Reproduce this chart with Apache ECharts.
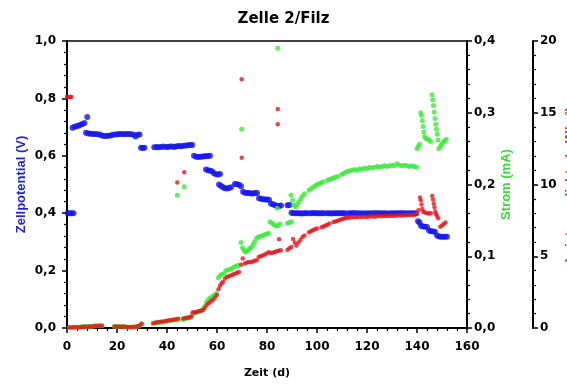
<!DOCTYPE html>
<html>
<head>
<meta charset="utf-8">
<script src="https://cdn.jsdelivr.net/npm/echarts@6/dist/echarts.min.js"></script>
<style>
html,body{margin:0;padding:0;background:#fff}
#chart{width:567px;height:389px}
</style>
</head>
<body>
<div id="chart"></div>
<script>
const chartTitle = 'Zelle 2/Filz';
const timeName = 'Zeit (d)';
const potentialName = 'Zellpotential (V)';
const currentName = 'Strom (mA)';
const powerName = 'Leistungsdichte (mW/m²)';

// Zellpotential [Tag, V]
const potential = [
  [0.3,0.400],[1,0.400],[1.8,0.400],[2.6,0.400],
  [2.2,0.698],[3,0.701],[3.8,0.703],[4.6,0.705],[5.4,0.708],[6.2,0.711],[7,0.714],
  [8.1,0.735],
  [7.6,0.680],[8.5,0.678],[9.4,0.677],[10.3,0.676],[11.2,0.676],[12.1,0.675],[13,0.674],[13.9,0.671],
  [14.8,0.669],[15.7,0.669],[16.6,0.670],[17.5,0.671],[18.4,0.673],[19.3,0.674],[20.2,0.675],[21.1,0.676],
  [22,0.676],[22.9,0.675],[23.8,0.676],[24.7,0.676],[25.6,0.675],[26.5,0.674],[27.4,0.667],[28.2,0.673],[29,0.674],
  [29.6,0.628],[30.3,0.627],[31,0.628],
  [34.9,0.630],[35.8,0.631],[36.7,0.630],[37.6,0.631],[38.5,0.632],[39.4,0.631],[40.3,0.631],[41.2,0.632],
  [42.1,0.632],[43,0.631],[43.9,0.633],[44.8,0.634],[45.7,0.633],[46.6,0.635],[47.5,0.636],[48.4,0.637],[49.3,0.638],[50.1,0.638],
  [50.8,0.600],[51.6,0.597],[52.4,0.596],[53.2,0.597],[54,0.597],[54.8,0.598],[55.6,0.598],[56.4,0.599],[57.2,0.600],
  [55.6,0.552],[56.4,0.550],[57.2,0.548],[58,0.546],[58.8,0.539],[59.6,0.536],[60.4,0.535],[61.2,0.537],
  [60.8,0.500],[61.6,0.495],[62.4,0.490],[63.2,0.487],[64,0.486],[64.8,0.488],[65.6,0.490],
  [67.2,0.502],[68,0.501],[68.8,0.499],[69.6,0.494],
  [70.4,0.475],[71.2,0.471],[72,0.470],[72.8,0.470],[73.6,0.469],[74.4,0.469],[75.2,0.470],[76,0.470],
  [76.8,0.452],[77.6,0.450],[78.4,0.449],[79.2,0.448],[80,0.448],[80.8,0.447],
  [81.6,0.433],[82.4,0.431],[83.2,0.428],[84,0.426],[84.8,0.425],[85.6,0.427],
  [88.2,0.428],[89,0.429],
  [89.8,0.402],[90.6,0.400],[91.4,0.400],[92.2,0.400],[93,0.400],[93.8,0.399],[94.6,0.400],[95.4,0.400],[96,0.400],
  [97.2,0.400],[98,0.400],[98.8,0.401],[99.6,0.400],[100.4,0.400],[101.2,0.400],[102,0.400],[102.8,0.400],
  [104,0.400],[104.8,0.400],[105.6,0.399],[106.4,0.400],[107.2,0.400],[108,0.400],[108.8,0.400],[109.6,0.400],[110.4,0.400],[111.2,0.400],
  [112.6,0.400],[113.5,0.400],[114.5,0.401],[115.5,0.400],[116.5,0.400],[117.5,0.400],[118.5,0.399],[119.5,0.400],
  [120.5,0.400],[121.5,0.400],[122.5,0.400],[123.5,0.401],[124.5,0.400],[125.5,0.400],[126.5,0.400],[127.5,0.400],
  [128.5,0.399],[129.5,0.400],[130.5,0.400],[131.5,0.400],[132.5,0.400],[133.5,0.401],[134.5,0.400],[135.5,0.400],
  [136.5,0.400],[137.5,0.400],[138.5,0.400],[139.5,0.400],
  [140.4,0.372],[141,0.368],[141.6,0.356],[142.4,0.354],[143.2,0.353],[144,0.352],
  [144.8,0.340],[145.6,0.337],[146.4,0.336],[147.2,0.335],
  [148,0.322],[148.8,0.319],[149.6,0.318],[150.4,0.318],[151.2,0.318],[152,0.318]
];

// Strom [Tag, mA]
const current = [
  [1,0.001],[2,0.001],[3,0.001],[4,0.001],[5,0.001],[6,0.002],[7,0.002],[8,0.002],[9,0.002],[10,0.002],
  [11,0.003],[12,0.003],[13,0.003],[14,0.003],
  [19,0.002],[20,0.002],[21,0.002],[22,0.002],[23,0.002],[24,0.001],[25,0.001],[26,0.001],[27,0.001],[28,0.002],[29,0.003],[30,0.006],
  [34.5,0.006],[35.5,0.007],[36.5,0.007],[37.5,0.008],[38.5,0.008],[39.5,0.009],[40.5,0.010],[41.5,0.010],[42.5,0.011],[43.5,0.011],[44.5,0.012],
  [46.5,0.012],[47.3,0.013],[48.1,0.014],[48.9,0.014],[49.7,0.015],
  [50.3,0.020],[51.1,0.021],[51.9,0.022],[52.7,0.023],[53.5,0.024],[54.3,0.025],
  [55,0.030],[55.8,0.036],[56.6,0.040],[57.4,0.042],[58.2,0.044],[59,0.046],[59.8,0.048],
  [60.5,0.070],[61.2,0.073],[62,0.075],[62.8,0.076],[63.6,0.080],[64.4,0.081],[65.2,0.082],[66,0.083],[66.8,0.085],[67.6,0.086],[68.4,0.087],
  [69.6,0.119],[70.2,0.112],[70.8,0.108],[71.4,0.106],[72,0.107],[72.6,0.109],[73.2,0.111],[73.8,0.113],[74.4,0.116],
  [75,0.120],[75.8,0.125],[76.6,0.127],[77.4,0.128],[78.2,0.129],[79,0.130],[79.8,0.131],[80.6,0.132],
  [81.2,0.148],[82,0.146],[82.8,0.144],[83.6,0.142],[84.4,0.143],[85.2,0.145],
  [84.1,0.167],
  [88.2,0.146],[89,0.147],[89.8,0.148],
  [89.6,0.185],[90.2,0.178],[90.8,0.171],[91.4,0.169],[92.1,0.172],[92.8,0.176],[93.5,0.180],[94.2,0.184],[95,0.187],
  [96.8,0.192],[97.6,0.194],[98.4,0.196],[99.2,0.198],[100,0.200],[100.8,0.201],[101.6,0.202],[102.4,0.204],
  [104.2,0.206],[105,0.207],[105.8,0.208],[106.6,0.209],[107.4,0.210],[108.2,0.211],
  [109.8,0.214],[110.6,0.215],[111.4,0.217],[112.2,0.218],
  [113,0.219],[114,0.220],[115,0.221],[116,0.220],[117,0.222],[118,0.221],[119,0.223],[120,0.222],[121,0.224],[122,0.223],
  [123,0.224],[124,0.225],[125,0.224],[126,0.225],[127,0.226],[128,0.225],[129,0.226],[130,0.227],[131,0.226],[132,0.229],
  [133,0.227],[134,0.226],[135,0.227],[136,0.226],[137,0.225],[138,0.226],[139,0.225],[139.8,0.224],
  [140,0.250],[140.5,0.253],[141,0.256],[141.5,0.300],[141.8,0.296],[142.1,0.289],[142.4,0.281],[142.7,0.273],[143,0.267],
  [143.6,0.264],[144.2,0.263],[144.8,0.262],[145.4,0.260],
  [146,0.325],[146.3,0.318],[146.6,0.310],[146.9,0.301],[147.2,0.292],[147.5,0.284],[147.8,0.277],[148.1,0.270],[148.4,0.262],[148.7,0.250],
  [149.3,0.253],[149.9,0.256],[150.5,0.259],[151.1,0.261],[151.7,0.263],
  [44.1,0.185],[46.9,0.197],[69.9,0.277],[84.3,0.390]
];

// Leistungsdichte [Tag, mW/m²]
const powerDensity = [
  [0,16.1],[0.6,16.1],[1.2,16.1],[1.8,16.1],
  [1,0.03],[2,0.04],[3,0.05],[4,0.05],[5,0.06],[6,0.07],[7,0.08],[8,0.09],[9,0.10],[10,0.11],[11,0.12],[12,0.14],[13,0.15],[14,0.16],
  [19,0.10],[20,0.10],[21,0.09],[22,0.09],[23,0.08],[24,0.07],[25,0.07],[26,0.07],[27,0.08],[28,0.10],[29,0.15],[29.8,0.30],
  [34.5,0.35],[35.5,0.38],[36.5,0.41],[37.5,0.44],[38.5,0.46],[39.5,0.49],[40.5,0.52],[41.5,0.55],[42.5,0.58],[43.5,0.61],[44.5,0.64],
  [46.5,0.66],[47.3,0.69],[48.1,0.72],[48.9,0.75],[49.7,0.80],
  [50.3,1.10],[51.1,1.08],[51.9,1.12],[52.7,1.16],[53.5,1.20],[54.3,1.26],[55.1,1.40],[55.9,1.60],[56.7,1.75],[57.5,1.85],
  [58.3,1.95],[59.1,2.10],[59.9,2.30],[60.6,2.70],[61.2,2.95],[61.8,3.10],[62.4,3.20],[63.2,3.45],[64,3.55],[64.8,3.60],
  [65.6,3.65],[66.4,3.72],[67.2,3.78],[68,3.85],[68.8,3.90],
  [69.6,4.40],[70.3,4.84],[71.1,4.50],[71.9,4.55],[72.7,4.60],[73.5,4.58],[74.3,4.63],[75.1,4.68],[75.9,4.72],
  [76.7,4.95],[77.5,5.00],[78.3,5.05],[79.1,5.12],[79.9,5.20],[80.7,5.28],[81.5,5.22],[82.3,5.25],[83.1,5.30],[83.9,5.35],[84.7,5.38],[85.5,5.42],
  [88.2,5.45],[89,5.55],[89.8,5.65],
  [90.4,6.20],[91.1,5.95],[91.8,5.75],[92.6,5.95],[93.4,6.15],[94.2,6.35],[95,6.45],
  [96.8,6.68],[97.6,6.75],[98.4,6.82],[99.2,6.88],[100,6.93],
  [101.8,7.02],[102.6,7.08],[103.4,7.15],[104.2,7.20],[105,7.28],
  [106.6,7.38],[107.4,7.42],[108.2,7.48],[109,7.52],[109.8,7.58],[110.6,7.62],[111.4,7.66],[112.2,7.68],
  [113,7.70],[114,7.71],[115,7.72],[116,7.74],[117,7.73],[118,7.75],[119,7.76],[120,7.74],[121,7.77],[122,7.78],
  [123,7.76],[124,7.79],[125,7.80],[126,7.78],[127,7.81],[128,7.80],[129,7.82],[130,7.83],[131,7.81],[132,7.84],
  [133,7.85],[134,7.83],[135,7.86],[136,7.85],[137,7.87],[138,7.88],[139,7.90],[140,7.95],
  [140.6,8.20],[141.2,9.10],[141.5,8.90],[141.8,8.60],[142.1,8.30],[142.5,8.10],[143.2,8.05],[144,8.00],[144.8,7.98],[145.5,8.00],
  [146.1,9.20],[146.4,8.95],[146.7,8.65],[147,8.40],[147.3,8.10],[147.6,7.95],[148,7.80],[148.5,7.65],
  [149.3,7.05],[150,7.15],[150.7,7.25],[151.4,7.35],
  [44.1,10.14],[46.9,10.86],[69.9,17.33],[69.9,11.86],[84.3,15.26],[84.3,14.20],[84.8,6.19]
];

const colors = { potential: '#1616e8', current: '#3ee83e', power: '#e6161e' };

const labelFont = { color: '#000', fontFamily: 'DejaVu Sans', fontWeight: 'bold', fontSize: 12 };
const nameFont = { fontFamily: 'Liberation Sans', fontWeight: 'bold', fontSize: 13 };

function decimalComma(digits) {
  return v => v.toFixed(digits).replace('.', ',');
}

function axisStyle(extra) {
  return Object.assign({
    type: 'value',
    nameMoveOverlap: false,
    axisLine: { show: true, onZero: false, lineStyle: { color: '#000', width: 2 } },
    axisTick: { show: true, inside: false, length: 5, lineStyle: { color: '#000', width: 1.5 } },
    minorTick: { show: true, splitNumber: 5, length: 3, lineStyle: { color: '#000', width: 1.2 } },
    splitLine: { show: false },
    minorSplitLine: { show: false }
  }, extra);
}

const chart = echarts.init(document.getElementById('chart'), null, { renderer: 'canvas' });

chart.setOption({
  animation: false,
  backgroundColor: '#fff',
  title: {
    text: chartTitle,
    left: 'center',
    top: 7,
    textStyle: { color: '#000', fontFamily: 'DejaVu Sans', fontWeight: 'bold', fontSize: 15 }
  },
  grid: {
    left: 67, right: 100, top: 41, bottom: 61,
    show: true, borderColor: '#000', borderWidth: 1.5, backgroundColor: 'transparent',
    containLabel: false, outerBoundsMode: 'none'
  },
  xAxis: axisStyle({
    min: 0, max: 160, interval: 20,
    name: timeName, nameLocation: 'middle', nameGap: 40,
    nameTextStyle: Object.assign({ color: '#000' }, nameFont, { fontFamily: 'DejaVu Sans', fontSize: 11 }),
    axisLabel: Object.assign({ margin: 13 }, labelFont)
  }),
  yAxis: [
    axisStyle({
      position: 'left',
      min: 0, max: 1, interval: 0.2,
      name: potentialName, nameLocation: 'middle', nameGap: 39,
      nameTextStyle: Object.assign({ color: '#2222d8' }, nameFont),
      axisLabel: Object.assign({ margin: 11, formatter: decimalComma(1) }, labelFont)
    }),
    axisStyle({
      position: 'right',
      min: 0, max: 0.4, interval: 0.1,
      name: currentName, nameLocation: 'middle', nameGap: 33,
      nameTextStyle: Object.assign({ color: '#3ad83a' }, nameFont),
      axisLabel: Object.assign({ margin: 7, formatter: decimalComma(1) }, labelFont)
    }),
    axisStyle({
      position: 'right', offset: 66,
      min: 0, max: 20, interval: 5,
      name: powerName, nameLocation: 'middle', nameGap: 31,
      nameTextStyle: Object.assign({ color: '#e03030' }, nameFont),
      axisLabel: Object.assign({ margin: 7, formatter: v => String(v) }, labelFont)
    })
  ],
  series: [
    {
      name: potentialName, type: 'scatter', yAxisIndex: 0, data: potential,
      symbol: 'circle', symbolSize: 6,
      itemStyle: { color: colors.potential }, z: 2
    },
    {
      name: currentName, type: 'scatter', yAxisIndex: 1, data: current,
      symbol: 'circle', symbolSize: 5,
      itemStyle: { color: colors.current }, z: 3
    },
    {
      name: powerName, type: 'scatter', yAxisIndex: 2, data: powerDensity,
      symbol: 'circle', symbolSize: 4.5,
      itemStyle: { color: colors.power }, z: 4
    }
  ]
});
</script>
</body>
</html>
